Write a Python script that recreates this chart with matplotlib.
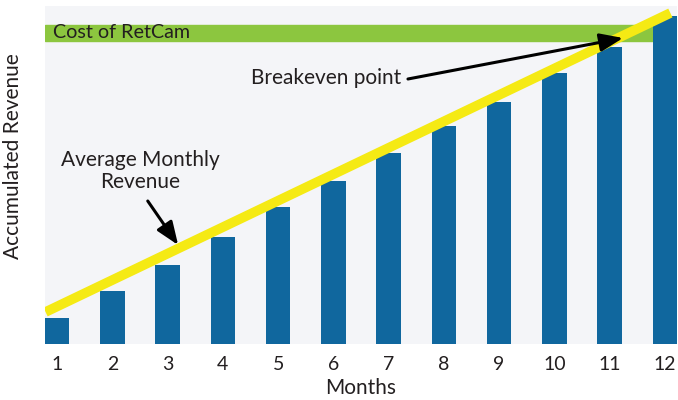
import matplotlib
matplotlib.use("Agg")
from matplotlib import pyplot as plt
import numpy as np

# accumulated revenue per month (arbitrary units, no y scale shown)
months = [1, 2, 3, 4, 5, 6, 7, 8, 9, 10, 11, 12]
accumulated = [26, 53, 79, 107, 137, 163, 191, 218, 242, 271, 297, 328]
cost_of_retcam = 311

# average monthly revenue trend line (end points)
avg_x = [0.79, 12.1]
avg_y = [32, 331]

BAR_COLOR = '#10679e'
GREEN = '#8cc63f'
YELLOW = '#f5ea14'
BG = '#f4f5f8'
TEXT = '#231f20'

plt.rcParams['font.family'] = ['Lato', 'DejaVu Sans']

fig = plt.figure(figsize=(6.78, 4.0), dpi=100)
ax = fig.add_axes([45 / 678, 1 - 344 / 400, 632 / 678, 338 / 400])
ax.set_facecolor(BG)

ax.bar(months, accumulated, width=0.44, color=BAR_COLOR, zorder=2)

ax.axhspan(cost_of_retcam - 8, cost_of_retcam + 8, color=GREEN, zorder=1)
ax.text(0.92, cost_of_retcam, 'Cost of RetCam', fontsize=14.2, color=TEXT,
        va='center', ha='left', zorder=5)

ax.plot(avg_x, avg_y, color=YELLOW, lw=7, solid_capstyle='butt', zorder=3)

# breakeven: where the average line reaches the cost
slope = (avg_y[1] - avg_y[0]) / (avg_x[1] - avg_x[0])
be_x = avg_x[0] + (cost_of_retcam - avg_y[0]) / slope

arrow = dict(arrowstyle='-|>,head_length=1.4,head_width=0.55',
             lw=2.2, color='black', shrinkA=0, shrinkB=0)

ax.text(5.87, 266, 'Breakeven point', fontsize=15, color=TEXT,
        ha='center', va='center')
ax.annotate('', xy=(be_x - 0.1, cost_of_retcam - 5), xytext=(7.35, 265),
            arrowprops=arrow, zorder=6)

ax.text(2.5, 173, 'Average Monthly\nRevenue', fontsize=15, color=TEXT,
        ha='center', va='center', linespacing=1.15)
ax.annotate('', xy=(3.19, 99), xytext=(2.64, 143),
            arrowprops=arrow, zorder=6)

ax.set_xlim(0.78, 12.22)
ax.set_ylim(0, 338)
ax.set_xticks(months)
ax.set_xticklabels([str(m) for m in months], fontsize=14, color=TEXT)
ax.set_yticks([])
ax.tick_params(axis='x', length=0, pad=9)
for s in ax.spines.values():
    s.set_visible(False)

ax.set_xlabel('Months', fontsize=15, color=TEXT, labelpad=3)
ax.set_ylabel('Accumulated Revenue', fontsize=15, color=TEXT)
ax.yaxis.set_label_coords(-0.035, 0.555)

fig.savefig('out.png', dpi=100, facecolor='white')
